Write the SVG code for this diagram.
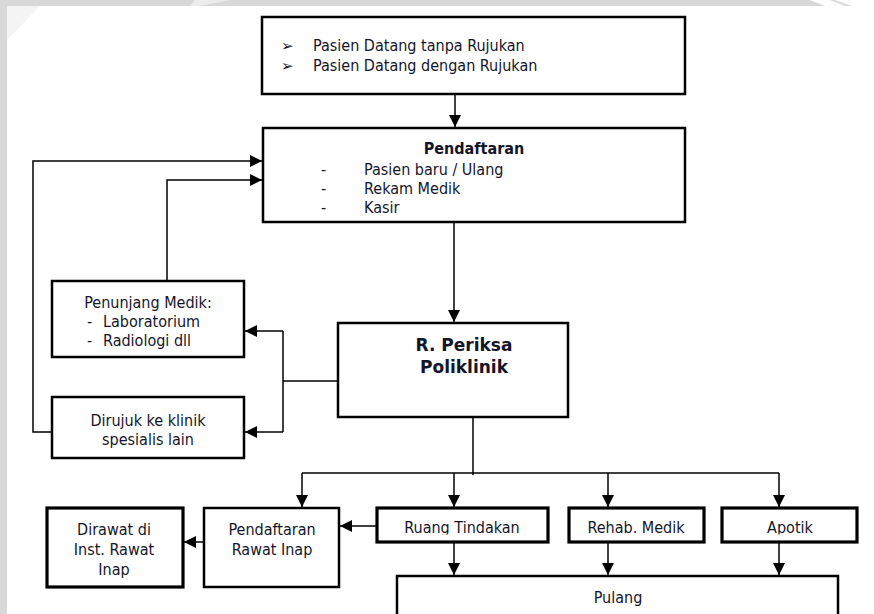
<svg xmlns="http://www.w3.org/2000/svg" width="874" height="614" viewBox="0 0 874 614">
  <defs>
    <style>
      .box { fill: #ffffff; stroke: #000000; stroke-width: 2.5; }
      .box-heavy { fill: #ffffff; stroke: #000000; stroke-width: 3.2; }
      .wire { fill: none; stroke: #000000; stroke-width: 1.5; }
      .arrow { fill: none; stroke: #000000; stroke-width: 1.5; marker-end: url(#head); }
      text { font-family: "DejaVu Sans Condensed", "DejaVu Sans", "Liberation Sans", sans-serif; font-stretch: condensed; fill: #15152a; font-size: 16px; }
      .bold { font-weight: bold; }
      .big { font-family: "DejaVu Sans", sans-serif; font-stretch: normal; font-size: 17px; font-weight: bold; }
      .mid { text-anchor: middle; }
      .bullet { font-family: "DejaVu Sans", sans-serif; font-stretch: normal; font-size: 15px; }
    </style>
    <marker id="head" markerUnits="userSpaceOnUse" markerWidth="14" markerHeight="12" refX="12" refY="6" orient="auto">
      <path d="M0,0 L12,6 L0,12 Z" fill="#000000"/>
    </marker>
    <clipPath id="cut-labels">
      <rect x="370" y="500" width="500" height="34.5"/>
    </clipPath>
  </defs>

  <!-- page frame -->
  <rect x="0" y="0" width="874" height="614" fill="#ffffff"/>
  <rect x="0" y="0" width="874" height="6" fill="#d8d8d8"/>
  <rect x="0" y="0" width="7" height="614" fill="#d8d8d8"/>
  <polygon points="7,6 40,6 7,40" fill="#f4f4f4"/>
  <polygon points="195,0 230,0 200,6 190,6" fill="#ececec"/>
  <polygon points="810,0 830,0 845,6 825,6" fill="#ffffff"/>
  <polygon points="835,0 874,0 874,6 852,6" fill="#ffffff"/>

  <!-- connectors -->
  <g id="connectors">
    <path class="arrow" d="M455,95 V127"/>
    <path class="arrow" d="M454,223 V322"/>
    <path class="arrow" d="M167,281 V180 H262"/>
    <path class="arrow" d="M52,432 H33 V161 H262"/>
    <path class="wire" d="M338,381 H283"/>
    <path class="wire" d="M283,331 V432"/>
    <path class="arrow" d="M283,331 H245"/>
    <path class="arrow" d="M283,432 H245"/>
    <path class="wire" d="M473,418 V475"/>
    <path class="wire" d="M302,473 H779"/>
    <path class="arrow" d="M302,473 V507"/>
    <path class="arrow" d="M454,473 V507"/>
    <path class="arrow" d="M608,473 V507"/>
    <path class="arrow" d="M779,473 V507"/>
    <path class="arrow" d="M377,526 H340"/>
    <path class="arrow" d="M204,542 H184"/>
    <path class="arrow" d="M454,543 V575"/>
    <path class="arrow" d="M608,543 V575"/>
    <path class="arrow" d="M779,543 V575"/>
  </g>

  <!-- arrival -->
  <g id="arrival">
    <rect class="box" x="262" y="17" width="423" height="77"/>
    <text class="bullet" x="281" y="51">➢</text>
    <text x="313" y="51">Pasien Datang tanpa Rujukan</text>
    <text class="bullet" x="281" y="71">➢</text>
    <text x="313" y="71">Pasien Datang dengan Rujukan</text>
  </g>

  <!-- registration -->
  <g id="pendaftaran">
    <rect class="box" x="263" y="128" width="422" height="94"/>
    <text class="bold mid" x="474" y="154">Pendaftaran</text>
    <text x="321" y="175">-</text>
    <text x="364" y="175">Pasien baru / Ulang</text>
    <text x="321" y="194">-</text>
    <text x="364" y="194">Rekam Medik</text>
    <text x="321" y="213">-</text>
    <text x="364" y="213">Kasir</text>
  </g>

  <!-- supporting services -->
  <g id="penunjang">
    <rect class="box" x="52" y="281" width="192" height="76"/>
    <text class="mid" x="148" y="308">Penunjang Medik:</text>
    <text x="87" y="327">-</text>
    <text x="103" y="327">Laboratorium</text>
    <text x="87" y="346">-</text>
    <text x="103" y="346">Radiologi dll</text>
  </g>

  <!-- referral -->
  <g id="dirujuk">
    <rect class="box" x="52" y="397" width="192" height="61"/>
    <text class="mid" x="148" y="426">Dirujuk ke klinik</text>
    <text class="mid" x="148" y="445">spesialis lain</text>
  </g>

  <!-- examination room -->
  <g id="poliklinik">
    <rect class="box" x="338" y="323" width="230" height="94"/>
    <text class="big mid" x="464" y="351">R. Periksa</text>
    <text class="big mid" x="464" y="373">Poliklinik</text>
  </g>

  <!-- inpatient -->
  <g id="dirawat">
    <rect class="box-heavy" x="47" y="508" width="136" height="79"/>
    <text class="mid" x="114" y="535">Dirawat di</text>
    <text class="mid" x="114" y="555">Inst. Rawat</text>
    <text class="mid" x="114" y="575">Inap</text>
  </g>

  <g id="pendaftaran-rawat-inap">
    <rect class="box" x="204" y="508" width="135" height="79"/>
    <text class="mid" x="272" y="535">Pendaftaran</text>
    <text class="mid" x="272" y="555">Rawat Inap</text>
  </g>

  <!-- service units -->
  <g id="ruang-tindakan">
    <rect class="box-heavy" x="377" y="508" width="171" height="34"/>
    <text class="mid" x="462" y="533" clip-path="url(#cut-labels)">Ruang Tindakan</text>
  </g>

  <g id="rehab-medik">
    <rect class="box-heavy" x="569" y="508" width="135" height="34"/>
    <text class="mid" x="636" y="533" clip-path="url(#cut-labels)">Rehab. Medik</text>
  </g>

  <g id="apotik">
    <rect class="box-heavy" x="722" y="508" width="135" height="34"/>
    <text class="mid" x="790" y="533" clip-path="url(#cut-labels)">Apotik</text>
  </g>

  <!-- discharge -->
  <g id="pulang">
    <rect class="box" x="397" y="576" width="441" height="50"/>
    <text class="mid" x="618" y="603">Pulang</text>
  </g>
</svg>
